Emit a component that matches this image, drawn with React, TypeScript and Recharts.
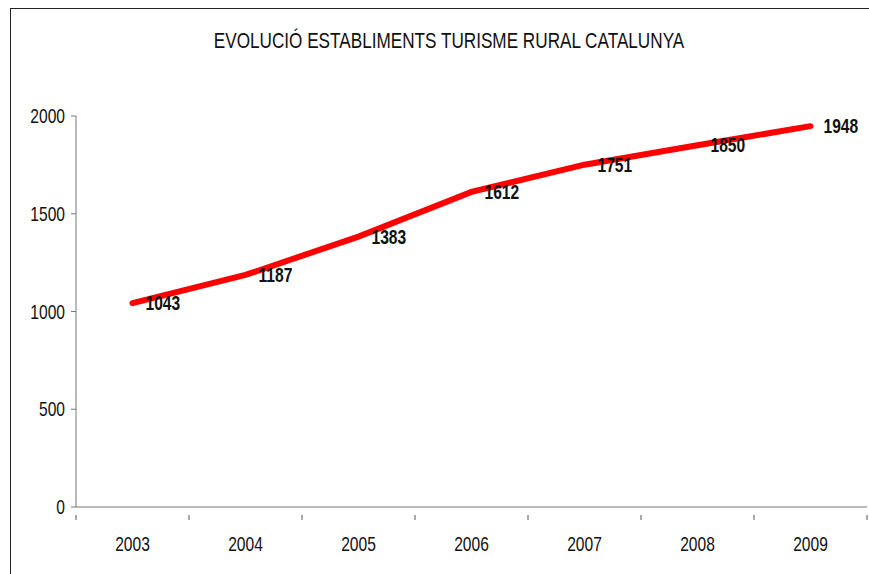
import { LabelList, Line, LineChart, XAxis, YAxis } from "recharts";

const years = ["2003", "2004", "2005", "2006", "2007", "2008", "2009"];
const establishments = [1043, 1187, 1383, 1612, 1751, 1850, 1948];
const yTicks = [0, 500, 1000, 1500, 2000];

const data = years.map((year, i) => ({ year, value: establishments[i] }));

const FONT = "'Liberation Sans', Arial, sans-serif";
const NARROW = 0.78;

// Arial Narrow look-alike: Liberation Sans squeezed horizontally
function NarrowText({ x, y, anchor, size, bold, children }: any) {
  return (
    <text
      transform={`translate(${x},${y}) scale(${NARROW},1)`}
      textAnchor={anchor}
      fontSize={size}
      fontWeight={bold ? "bold" : "normal"}
      fontFamily={FONT}
      fill="#111"
    >
      {children}
    </text>
  );
}

function YearTick(props: any) {
  const { x, y, payload, index, width, visibleTicksCount } = props;
  const band = width / visibleTicksCount;
  const left = x - band / 2;
  return (
    <g>
      <line x1={left} y1={y} x2={left} y2={y + 5} stroke="#555" />
      {index === visibleTicksCount - 1 && (
        <line x1={left + band} y1={y} x2={left + band} y2={y + 5} stroke="#555" />
      )}
      <NarrowText x={x} y={y + 36} anchor="middle" size={20}>
        {payload.value}
      </NarrowText>
    </g>
  );
}

function ValueTick(props: any) {
  const { x, y, payload } = props;
  return (
    <NarrowText x={x + 2} y={y + 7} anchor="end" size={20}>
      {payload.value}
    </NarrowText>
  );
}

function PointLabel(props: any) {
  const { x, y, value } = props;
  return (
    <NarrowText x={x + 13} y={y + 7} anchor="start" size={20} bold>
      {value}
    </NarrowText>
  );
}

export default function App() {
  return (
    <div style={{ position: "absolute", left: 0, top: 0, width: 869, height: 574, background: "#fff", overflow: "hidden" }}>
      <div
        style={{
          position: "absolute",
          left: 10,
          top: 8,
          width: 900,
          height: 600,
          borderLeft: "1px solid #222",
          borderTop: "1px solid #222",
        }}
      />
      <svg width={869} height={80} style={{ position: "absolute", left: 0, top: 0 }}>
        <NarrowText x={449} y={48} anchor="middle" size={22}>
          EVOLUCIÓ ESTABLIMENTS TURISME RURAL CATALUNYA
        </NarrowText>
      </svg>
      <div style={{ position: "absolute", left: 0, top: 0 }}>
        <LineChart width={869} height={574} data={data} margin={{ top: 116, right: 2, bottom: 0, left: 0 }}>
          <XAxis
            dataKey="year"
            scale="band"
            height={67}
            stroke="#777"
            tickLine={false}
            tick={<YearTick />}
            interval={0}
          />
          <YAxis
            width={76}
            domain={[0, 2000]}
            ticks={yTicks}
            stroke="#777"
            tickSize={5}
            tickMargin={8}
            tick={<ValueTick />}
          />
          <Line
            dataKey="value"
            type="linear"
            stroke="#ff0000"
            strokeWidth={6}
            strokeLinecap="round"
            dot={false}
            isAnimationActive={false}
          >
            <LabelList dataKey="value" content={<PointLabel />} />
          </Line>
        </LineChart>
      </div>
    </div>
  );
}
